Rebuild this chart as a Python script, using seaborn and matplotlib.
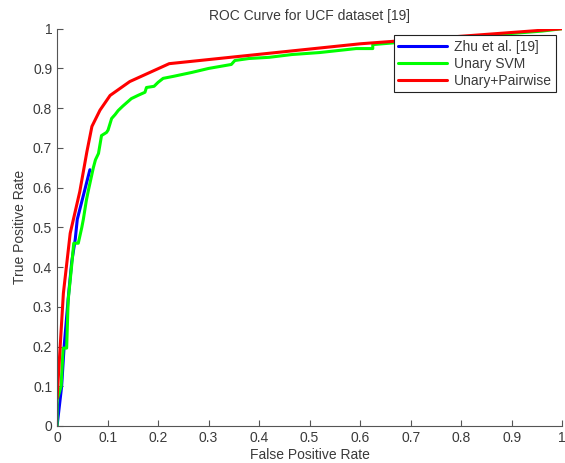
import pandas as pd
import matplotlib
matplotlib.use("Agg")
import matplotlib.pyplot as plt
import matplotlib.ticker as mtick
import seaborn as sns

### curve data
zhu_fpr = [0, 0.009, 0.014, 0.022, 0.029, 0.036, 0.040, 0.050, 0.058, 0.065]
zhu_tpr = [0, 0.099, 0.200, 0.320, 0.413, 0.470, 0.520, 0.570, 0.610, 0.645]

svm_fpr = [0, 0, 0.008, 0.012, 0.019, 0.022, 0.029, 0.033, 0.042, 0.049, 0.052,
           0.058, 0.062, 0.072, 0.076, 0.082, 0.088, 0.098, 0.101, 0.108, 0.115,
           0.121, 0.130, 0.147, 0.160, 0.174, 0.177, 0.192, 0.200, 0.210, 0.230,
           0.267, 0.300, 0.345, 0.352, 0.380, 0.420, 0.465, 0.520, 0.592, 0.625,
           0.625, 0.700, 0.800, 0.900, 0.960, 1.0]
svm_tpr = [0, 0.065, 0.100, 0.196, 0.196, 0.317, 0.405, 0.460, 0.460, 0.500, 0.520,
           0.568, 0.593, 0.651, 0.670, 0.686, 0.731, 0.739, 0.745, 0.774, 0.784,
           0.794, 0.805, 0.824, 0.832, 0.840, 0.852, 0.855, 0.865, 0.875, 0.880,
           0.890, 0.900, 0.910, 0.920, 0.925, 0.928, 0.935, 0.940, 0.950, 0.950,
           0.960, 0.968, 0.978, 0.988, 0.994, 1.0]

pair_fpr = [0, 0.0125, 0.026, 0.045, 0.059, 0.069, 0.085, 0.105, 0.144, 0.222, 0.600, 1.0]
pair_tpr = [0.07, 0.334, 0.485, 0.590, 0.690, 0.754, 0.795, 0.832, 0.867, 0.912, 0.962, 1.0]

labels = ["Zhu et al. [19]", "Unary SVM", "Unary+Pairwise"]
colors = ["#0000ff", "#00ff00", "#ff0000"]

frames = []
for name, fx, ty in zip(labels, [zhu_fpr, svm_fpr, pair_fpr], [zhu_tpr, svm_tpr, pair_tpr]):
    frames.append(pd.DataFrame({"fpr": fx, "tpr": ty, "method": name}))
roc = pd.concat(frames, ignore_index=True)

sns.set_style("white")
plt.rcParams["font.family"] = ["Liberation Sans", "DejaVu Sans"]
txt = "#3a3a3a"

fig = plt.figure(figsize=(5.65, 4.63), dpi=100)
ax = fig.add_axes([0.101, 0.080, 0.894, 0.858])

sns.lineplot(data=roc, x="fpr", y="tpr", hue="method", hue_order=labels,
             palette=colors, sort=False, estimator=None,
             linewidth=2.2, ax=ax)
for ln in ax.lines:
    ln.set_solid_joinstyle("round")

ax.set_xlim(0, 1)
ax.set_ylim(0, 1)
ax.xaxis.set_major_locator(mtick.MultipleLocator(0.1))
ax.yaxis.set_major_locator(mtick.MultipleLocator(0.1))
ax.xaxis.set_major_formatter(mtick.FormatStrFormatter("%g"))
ax.yaxis.set_major_formatter(mtick.FormatStrFormatter("%g"))
ax.tick_params(direction="in", length=4, width=0.8, colors="#555555",
               labelcolor=txt, labelsize=10, left=True, bottom=True)
for s in ["top", "right"]:
    ax.spines[s].set_visible(False)
for s in ["left", "bottom"]:
    ax.spines[s].set_color("#555555")
    ax.spines[s].set_linewidth(0.8)

ax.set_xlabel("False Positive Rate", color=txt, fontsize=10, labelpad=2)
ax.set_ylabel("True Positive Rate", color=txt, fontsize=10, labelpad=4)
ax.set_title("ROC Curve for UCF dataset [19]", color=txt, fontsize=10, pad=6)

leg = ax.legend(loc="upper right", bbox_to_anchor=(0.988, 0.983), fontsize=10,
                frameon=True, fancybox=False, framealpha=1.0, handlelength=3.5,
                borderpad=0.3, labelspacing=0.22, handletextpad=0.5,
                borderaxespad=0)
leg.get_frame().set_edgecolor("#222222")
leg.get_frame().set_linewidth(0.8)
for t in leg.get_texts():
    t.set_color(txt)

fig.savefig("out.png", dpi=100)
